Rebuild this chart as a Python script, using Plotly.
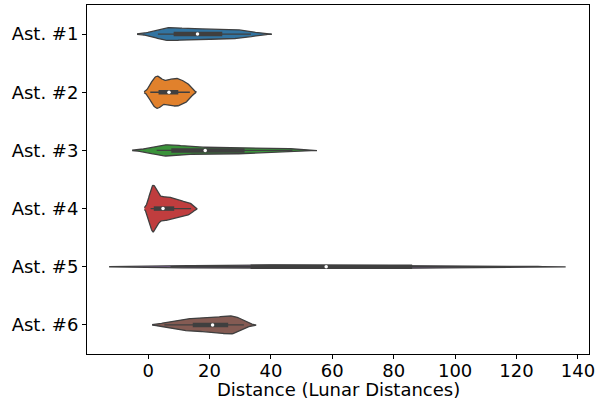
import numpy as np
import plotly.graph_objects as go

# Close-approach distances (in lunar distances) for each asteroid
asteroids = ["Ast. #1", "Ast. #2", "Ast. #3", "Ast. #4", "Ast. #5", "Ast. #6"]

ast1 = [3.2, 4.2, 5.0, 5.8, 6.6, 7.5, 8.6, 9.9, 11.2, 12.6, 14.0, 15.4, 16.8, 18.2, 19.6, 21.0, 22.4, 23.8, 25.2, 26.8, 28.4, 30.0, 31.6, 33.5]
ast2 = [0.7, 1.3, 1.9, 2.4, 2.8, 3.1, 3.5, 4.0, 4.6, 5.2, 5.9, 6.6, 7.0, 7.6, 8.2, 8.7, 9.2, 9.7, 10.2, 10.8, 11.4, 12.1, 12.8, 13.6]
ast3 = [2.8, 3.6, 4.4, 5.2, 6.0, 6.8, 7.8, 9.6, 11.4, 13.2, 15.0, 16.8, 20.4, 22.5, 24.6, 26.7, 28.8, 30.9, 33.0, 35.6, 38.2, 40.8, 43.8, 47.0]
ast4 = [0.8, 1.0, 1.2, 1.4, 1.55, 1.7, 1.9, 2.3, 2.8, 3.3, 3.9, 4.5, 5.2, 5.8, 6.4, 7.0, 7.6, 8.3, 9.1, 9.9, 10.8, 11.8, 12.9, 14.0]
ast5 = [7.3, 13, 19, 24, 28, 31.5, 34, 38, 42, 46, 51, 56, 60, 64, 69, 74, 80, 85, 89, 94, 99, 104, 110, 116]
ast6 = [5.3, 8.0, 10.0, 11.6, 12.8, 13.8, 14.8, 16.0, 17.2, 18.3, 19.3, 20.2, 21.8, 22.6, 23.4, 24.2, 25.0, 25.8, 26.9, 27.6, 28.2, 28.8, 29.6, 31.2]

distances = [ast1, ast2, ast3, ast4, ast5, ast6]

# kernel bandwidth of each density estimate (lunar distances)
bandwidths = [3.4, 1.0, 4.0, 1.0, 10.0, 2.0]

x_ticks = [0, 20, 40, 60, 80, 100, 120, 140]
x_title = "Distance (Lunar Distances)"

colors = ["#3274a1", "#e1812c", "#3a923a", "#c03d3e", "#9372b2", "#845b53"]
edge = "#3f3f3f"
font = dict(family="DejaVu Sans", size=18, color="black")

HALF_WIDTH = 0.4   # half width of the widest violin, in category units
CUT = 2            # density support extends this many bandwidths past the data
GRID = 100


def kde(vals, bw):
    v = np.asarray(vals, dtype=float)
    t = np.linspace(v.min() - CUT * bw, v.max() + CUT * bw, GRID)
    z = (t[:, None] - v[None, :]) / bw
    dens = np.exp(-0.5 * z ** 2).sum(axis=1) / (len(v) * bw * np.sqrt(2 * np.pi))
    return t, dens


curves = [kde(v, b) for v, b in zip(distances, bandwidths)]
# equal-area scaling: widths follow density, normalised by the global peak
peak = max(d.max() for _, d in curves)

fig = go.Figure()

for i, (name, vals, col, (t, dens)) in enumerate(zip(asteroids, distances, colors, curves)):
    w = HALF_WIDTH * dens / peak
    fig.add_trace(go.Scatter(
        x=np.concatenate([t, t[::-1]]),
        y=np.concatenate([i - w, (i + w)[::-1]]),
        mode="lines",
        fill="toself",
        fillcolor=col,
        line=dict(color=edge, width=1.3),
        hoverinfo="skip",
        showlegend=False,
    ))

    v = np.asarray(vals, dtype=float)
    q1, med, q3 = np.percentile(v, [25, 50, 75])
    lim = 1.5 * (q3 - q1)
    lo = v[v >= q1 - lim].min()
    hi = v[v <= q3 + lim].max()

    # whiskers
    fig.add_trace(go.Scatter(
        x=[lo, hi], y=[i, i], mode="lines",
        line=dict(color=edge, width=1.4),
        hoverinfo="skip", showlegend=False,
    ))
    # interquartile box
    fig.add_trace(go.Scatter(
        x=[q1, q3], y=[i, i], mode="lines",
        line=dict(color=edge, width=4.5),
        hoverinfo="skip", showlegend=False,
    ))
    # median
    fig.add_trace(go.Scatter(
        x=[med], y=[i], mode="markers",
        marker=dict(color="white", size=3.5, line=dict(width=0)),
        hoverinfo="skip", showlegend=False,
    ))

fig.update_layout(
    width=608,
    height=399,
    margin=dict(l=87, r=19, t=5, b=45),
    paper_bgcolor="white",
    plot_bgcolor="white",
    font=font,
)

# x-axis title placed just below the tick labels
fig.add_annotation(
    text=x_title,
    xref="paper", yref="paper",
    x=0.5, y=0,
    xanchor="center", yanchor="top",
    yshift=-23,
    showarrow=False,
    font=font,
)

fig.update_xaxes(
    range=[-19.9, 143.6],
    tickvals=x_ticks,
    ticks="outside",
    ticklen=4,
    tickwidth=1,
    tickcolor="black",
    ticklabelstandoff=-4,
    showline=True,
    linecolor="black",
    linewidth=1,
    mirror=True,
    showgrid=False,
    zeroline=False,
    automargin=False,
    tickfont=font,
)

fig.update_yaxes(
    range=[5.5, -0.5],
    tickvals=list(range(len(asteroids))),
    ticktext=asteroids,
    ticks="outside",
    ticklen=4,
    tickwidth=1,
    tickcolor="black",
    showline=True,
    linecolor="black",
    linewidth=1,
    mirror=True,
    showgrid=False,
    zeroline=False,
    automargin=False,
    tickfont=font,
)

fig.write_html("out.html")
